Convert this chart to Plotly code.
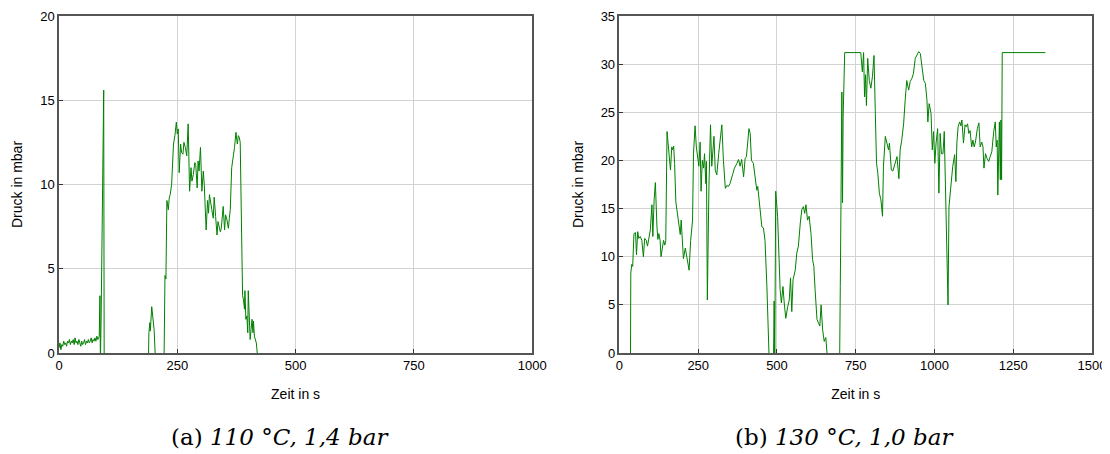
import plotly.graph_objects as go

# ---------------- data ----------------
# (a) 110 °C, 1,4 bar
time_a = [0, 2, 4, 6, 8, 10, 12, 14, 16, 18, 20, 22, 24, 26, 28, 30, 32, 34, 36, 38,
          40, 42, 44, 46, 48, 50, 52, 54, 56, 58, 60, 62, 64, 66, 68, 70, 72, 74, 76, 78,
          80, 82, 84, 85, 86.5, 87.5, 89, 90.5, 91.5, 93, 94.5, 95.5,
          189, 190, 192, 193, 196, 198, 201, 204,
          222, 224, 226, 228, 230, 231, 233, 235, 238, 240, 242, 245, 248, 250, 252, 254,
          257, 259, 262, 264, 267, 270, 273, 276, 279, 281, 284, 287, 289, 292, 294, 296,
          299, 302, 305, 307, 309, 311, 314, 316, 318, 321, 323, 326, 328, 331, 334, 336,
          339, 341, 343, 345, 347, 350, 352, 355, 358, 360, 362, 365, 367, 369, 371, 374,
          376, 377, 379, 381, 383, 386, 388, 390, 392, 393, 395, 397, 399, 400, 402, 404,
          406, 408, 410, 411, 413, 415, 417, 420]
pressure_a = [0.3, 0.6, 0.2, 0.5, 0.4, 0.7, 0.5, 0.6, 0.4, 0.7, 0.6, 0.8, 0.5, 0.7, 0.6, 0.8, 0.5, 0.9, 0.6, 0.7,
              0.5, 0.8, 0.6, 0.4, 0.7, 0.5, 0.6, 0.8, 0.5, 0.7, 0.6, 0.8, 0.6, 0.7, 0.9, 0.6, 0.8, 0.7, 0.9, 0.7,
              1.0, 0.8, 0.9, 1.0, 3.4, -0.5, 2.0, 5.1, 8.3, 12.0, 15.6, -0.5,
              -0.5, 1.2, 1.8, 1.3, 2.75, 2.2, 1.4, -0.5,
              -0.5, 4.6, 4.4, 9.05, 8.7, 8.5, 9.2, 9.4, 10.0, 11.5, 12.4, 12.9, 13.7, 13.0, 13.3, 10.7,
              12.4, 11.9, 11.8, 12.5, 12.2, 11.7, 13.6, 9.6, 11.0, 10.2, 10.6, 11.3, 11.2, 9.8, 11.4, 10.8,
              12.2, 9.6, 10.8, 10.0, 8.7, 7.3, 9.05, 8.3, 9.4, 8.7, 8.5, 8.0, 9.25, 8.1, 7.0, 7.8,
              7.5, 7.2, 7.4, 8.0, 8.7, 7.3, 8.2, 7.9, 7.4, 8.0, 8.5, 11.0, 11.3, 11.8, 12.2, 13.1,
              12.6, 12.4, 12.9, 12.8, 12.5, 4.7, 3.4, 3.15, 2.6, 3.7, 2.0, 2.2, 1.2, 3.7, 1.5, 0.8,
              1.4, 2.0, 1.2, 1.9, 1.0, 0.8, 0.6, -0.3]

# (b) 130 °C, 1,0 bar
time_b = [35, 36, 39, 42, 46, 51, 54, 58, 61, 66, 71, 76, 80, 85, 89, 94, 98, 103, 106, 110,
          114, 119, 122, 125, 129, 132, 137, 140, 144, 147, 151, 157, 162, 166, 169, 172, 175, 179,
          185, 189, 193, 196, 199, 203, 209, 214, 218, 221, 226, 232, 235, 240, 244, 249, 252, 256,
          259, 263, 267, 270, 274, 276, 279, 284, 289, 293, 300, 304, 309, 315, 321, 325, 330, 336,
          341, 346, 351, 359, 365, 373, 378, 383, 388, 394, 399, 403, 406, 411, 415, 419, 425, 431,
          436, 439, 442, 447, 452, 457, 462, 468, 473, 475, 489, 491, 493, 496, 502, 506, 510, 514,
          519, 523, 528, 534, 539, 543, 547, 551, 558, 563, 568, 574, 579, 584, 588, 592, 597, 602,
          608, 613, 617, 621, 627, 632, 636, 640, 645, 650, 655, 660, 699, 701, 706, 708, 710, 715,
          766, 771, 775, 778, 781, 784, 788, 793, 798, 803, 808, 812, 816, 820, 825, 830, 835, 838,
          844, 849, 854, 857, 863, 868, 875, 881, 887, 891, 896, 902, 907, 912, 918, 923, 928, 933,
          939, 944, 950, 955, 960, 966, 971, 976, 979, 983, 989, 993, 997, 1001, 1005, 1010, 1014,
          1018, 1022, 1027, 1031, 1035, 1043, 1046, 1052, 1058, 1064, 1068, 1071, 1075, 1080, 1084,
          1087, 1092, 1097, 1101, 1105, 1109, 1113, 1118, 1122, 1126, 1130, 1136, 1141, 1145, 1150,
          1154, 1157, 1162, 1167, 1172, 1177, 1182, 1188, 1193, 1196, 1199, 1201, 1206, 1209, 1211,
          1213, 1215, 1352]
pressure_b = [-0.5, 8.3, 9.2, 9.0, 12.4, 12.5, 10.2, 12.6, 11.9, 12.1, 11.7, 10.0, 11.9, 11.7, 11.1, 12.3, 12.8, 15.4, 12.1, 15.9,
              17.7, 13.1, 11.8, 12.4, 11.7, 10.0, 11.2, 11.7, 11.2, 11.7, 23.0, 20.7, 19.0, 21.4, 21.1, 21.5, 19.7, 15.7,
              14.2, 13.8, 12.3, 13.8, 11.6, 9.8, 10.9, 9.7, 9.3, 8.6, 11.7, 13.8, 20.7, 23.6, 21.4, 20.4, 19.4, 21.9,
              16.8, 20.0, 19.2, 20.7, 17.6, 19.9, 5.5, 17.3, 23.7, 19.4, 22.5, 19.0, 18.5, 20.7, 22.5, 23.7, 20.0, 17.1,
              17.4, 17.3, 17.6, 18.7, 19.2, 19.7, 20.1, 19.4, 20.1, 18.3, 20.2, 20.4, 21.8, 23.3, 22.8, 20.0, 19.7, 18.3,
              16.9, 17.3, 16.2, 15.2, 13.1, 13.0, 11.7, 6.9, 1.0, -0.5, -0.5, 5.4, -0.5, 16.8, 14.2, 9.7, 6.6, 5.2,
              6.9, 5.2, 3.6, 4.8, 5.5, 7.8, 4.3, 7.6, 8.6, 10.4, 11.1, 13.5, 14.9, 15.2, 14.5, 15.4, 13.8, 14.2,
              12.4, 9.7, 9.0, 6.6, 3.5, 3.1, 2.8, 5.0, 2.4, 1.2, 1.6, -0.5, -0.5, 6.9, 27.1, 15.6, 24.5, 31.2,
              31.2, 29.2, 31.2, 26.6, 28.9, 25.7, 30.6, 28.3, 27.5, 28.7, 30.9, 25.2, 19.7, 18.7, 16.6, 15.9, 14.2, 19.4,
              22.5, 21.8, 21.1, 21.8, 19.0, 18.9, 19.7, 20.4, 18.1, 21.1, 22.1, 23.8, 26.3, 28.3, 27.3, 28.2, 28.5, 29.0,
              30.6, 30.9, 31.3, 31.1, 29.7, 28.3, 28.0, 26.3, 24.0, 25.9, 24.9, 21.1, 23.0, 19.7, 21.8, 23.3, 16.6,
              22.8, 20.7, 20.7, 23.0, 17.3, 5.0, 15.2, 17.8, 19.4, 20.6, 17.8, 21.8, 23.5, 24.0, 23.6,
              24.2, 21.8, 23.7, 23.5, 23.8, 22.8, 23.1, 21.4, 22.1, 21.4, 21.9, 23.3, 23.9, 21.4, 21.9,
              21.4, 19.2, 20.7, 20.2, 19.9, 20.4, 20.9, 23.0, 24.0, 21.4, 22.1, 16.4, 24.0, 18.0, 24.2,
              18.0, 31.2, 31.2]

y_label = "Druck in mbar"
x_label = "Zeit in s"
caption_a = "(a) <i>110 °C, 1,4 bar</i>"
caption_b = "(b) <i>130 °C, 1,0 bar</i>"

# ---------------- figure ----------------
# the page body adds an 8 px offset, so the figure is 8 px smaller and shifted
OFF = 8
W, H = 1110 - OFF, 454 - OFF
ML, MR, MT, MB = 59.0 - OFF, 1110 - 1091.7, 15.5 - OFF, 454 - 353.3
PW = W - ML - MR
PH = H - MT - MB
green = "#008000"
fig = go.Figure()
fig.add_trace(go.Scatter(x=time_a, y=pressure_a, mode="lines",
                         line=dict(color=green, width=1), xaxis="x", yaxis="y",
                         showlegend=False))
fig.add_trace(go.Scatter(x=time_b, y=pressure_b, mode="lines",
                         line=dict(color=green, width=1), xaxis="x2", yaxis="y2",
                         showlegend=False))

axis_common = dict(showline=True, linecolor="#555555", linewidth=1.5, mirror=True,
                   showgrid=True, gridcolor="#d3d3d3", gridwidth=1, automargin=False,
                   ticks="inside", ticklen=4, tickcolor="#333333", zeroline=False,
                   tickfont=dict(family="Liberation Sans, Arial", size=13, color="#000000"),
                   title_font=dict(family="Liberation Sans, Arial", size=14, color="#000000"))

fig.update_layout(
    width=W, height=H, margin=dict(l=ML, r=MR, t=MT, b=MB, autoexpand=False),
    paper_bgcolor="white", plot_bgcolor="white",
    xaxis=dict(domain=[0, (532 - 59) / PW], range=[0, 1000], tickvals=[0, 250, 500, 750, 1000],
               anchor="y", title=dict(text=x_label, standoff=17), **axis_common),
    yaxis=dict(domain=[0, 1], range=[0, 20], tickvals=[0, 5, 10, 15, 20],
               anchor="x", title=dict(text=y_label, standoff=14), **axis_common),
    xaxis2=dict(domain=[(619.3 - 59) / PW, 1], range=[0, 1500],
                tickvals=[0, 250, 500, 750, 1000, 1250, 1500],
                anchor="y2", title=dict(text=x_label, standoff=17), **axis_common),
    yaxis2=dict(domain=[0, 1], range=[0, 35], tickvals=[0, 5, 10, 15, 20, 25, 30, 35],
                anchor="x2", title=dict(text=y_label, standoff=14), **axis_common),
)


def px_to_paper(xp, yp):
    # reference-window pixels -> plotly paper coordinates
    return (xp - 59) / PW, (353.3 - yp) / PH


cap_font = dict(family="DejaVu Serif, Liberation Serif, serif", size=23, color="#000000")
xa, ya = px_to_paper(280, 437)
xb, yb = px_to_paper(844, 437)
fig.add_annotation(text=caption_a, x=xa, y=ya, xref="paper", yref="paper",
                   showarrow=False, font=cap_font, xanchor="center", yanchor="middle")
fig.add_annotation(text=caption_b, x=xb, y=yb, xref="paper", yref="paper",
                   showarrow=False, font=cap_font, xanchor="center", yanchor="middle")

fig.write_html("out.html")
